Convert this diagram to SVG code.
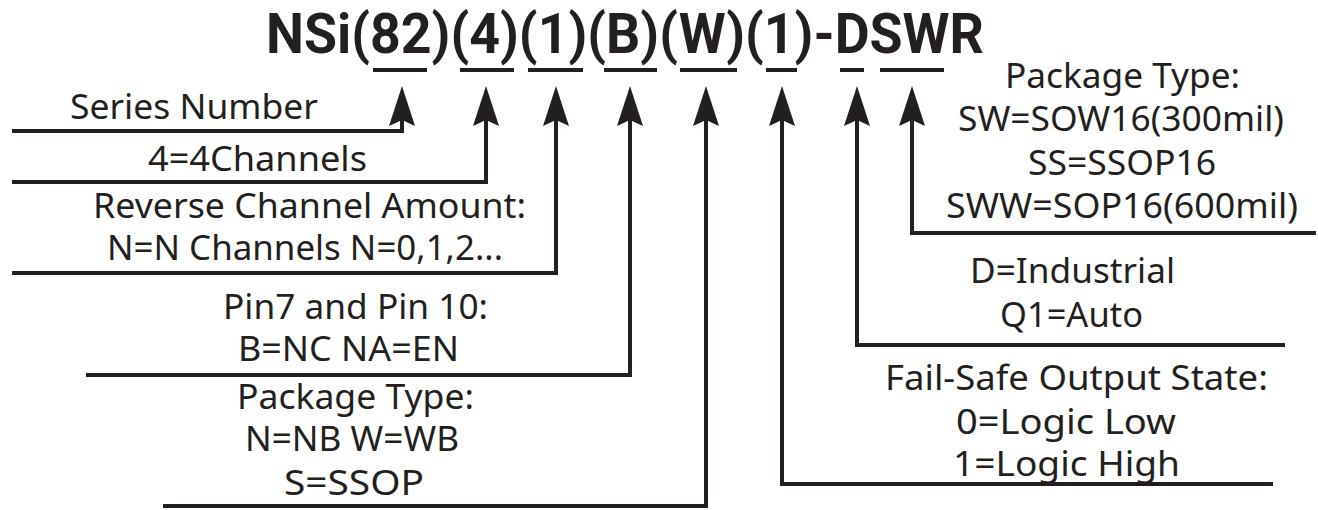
<svg xmlns="http://www.w3.org/2000/svg" width="1318" height="510" viewBox="0 0 1318 510">
<style>
.t{font-family:"Noto Sans","Open Sans",sans-serif;font-size:34px;fill:#231f20}
.title{font-family:Roboto,"Noto Sans",sans-serif;font-size:55px;font-weight:bold;fill:#231f20}
.c{fill:none;stroke:#231f20;stroke-width:4;marker-end:url(#ah)}
.u{stroke:#231f20;stroke-width:4}
</style>
<defs>
<marker id="ah" markerUnits="userSpaceOnUse" viewBox="-2 -14 44 28" markerWidth="44" markerHeight="28" refX="6" refY="0" orient="auto" overflow="visible">
<path d="M40,0 L0,-13 L6,0 L0,13 Z" fill="#231f20"/>
</marker>
</defs>
<rect width="1318" height="510" fill="#fff"/>
<g id="title">
<text class="title" x="266" y="53" textLength="718" lengthAdjust="spacingAndGlyphs">NSi(82)(4)(1)(B)(W)(1)-DSWR</text>
<line class="u" x1="373" y1="70" x2="427" y2="70"/>
<line class="u" x1="460" y1="70" x2="514" y2="70"/>
<line class="u" x1="528" y1="70" x2="583" y2="70"/>
<line class="u" x1="604" y1="70" x2="657" y2="70"/>
<line class="u" x1="680" y1="70" x2="737" y2="70"/>
<line class="u" x1="766" y1="70" x2="797" y2="70"/>
<line class="u" x1="840" y1="70" x2="864" y2="70"/>
<line class="u" x1="880" y1="70" x2="944" y2="70"/>
</g>
<g id="connectors">
<path class="c" d="M12,131 H402 V120"/>
<path class="c" d="M12,182 H486 V120"/>
<path class="c" d="M12,273 H556 V120"/>
<path class="c" d="M86,375 H630 V120"/>
<path class="c" d="M163,506 H706 V120"/>
<path class="c" d="M1273,484 H782 V120"/>
<path class="c" d="M1285,345 H857 V120"/>
<path class="c" d="M1316,233 H912 V120"/>
</g>
<g id="series">
<text class="t" x="70" y="119" textLength="248" lengthAdjust="spacingAndGlyphs">Series Number</text>
</g>
<g id="channels">
<text class="t" x="148" y="171" textLength="219" lengthAdjust="spacingAndGlyphs">4=4Channels</text>
</g>
<g id="reverse">
<text class="t" x="93" y="218" textLength="433" lengthAdjust="spacingAndGlyphs">Reverse Channel Amount:</text>
<text class="t" x="107" y="260" textLength="396" lengthAdjust="spacingAndGlyphs">N=N Channels N=0,1,2...</text>
</g>
<g id="pins">
<text class="t" x="223" y="319" textLength="265" lengthAdjust="spacingAndGlyphs">Pin7 and Pin 10:</text>
<text class="t" x="238" y="361" textLength="221" lengthAdjust="spacingAndGlyphs">B=NC NA=EN</text>
</g>
<g id="package-left">
<text class="t" x="237" y="409" textLength="237" lengthAdjust="spacingAndGlyphs">Package Type:</text>
<text class="t" x="245" y="451" textLength="214" lengthAdjust="spacingAndGlyphs">N=NB W=WB</text>
<text class="t" x="284" y="495" textLength="140" lengthAdjust="spacingAndGlyphs">S=SSOP</text>
</g>
<g id="package-right">
<text class="t" x="1005" y="88" textLength="235" lengthAdjust="spacingAndGlyphs">Package Type:</text>
<text class="t" x="958" y="131" textLength="326" lengthAdjust="spacingAndGlyphs">SW=SOW16(300mil)</text>
<text class="t" x="1028" y="175" textLength="188" lengthAdjust="spacingAndGlyphs">SS=SSOP16</text>
<text class="t" x="946" y="218" textLength="352" lengthAdjust="spacingAndGlyphs">SWW=SOP16(600mil)</text>
</g>
<g id="grade">
<text class="t" x="970" y="283" textLength="205" lengthAdjust="spacingAndGlyphs">D=Industrial</text>
<text class="t" x="1000" y="327" textLength="143" lengthAdjust="spacingAndGlyphs">Q1=Auto</text>
</g>
<g id="failsafe">
<text class="t" x="885" y="390" textLength="383" lengthAdjust="spacingAndGlyphs">Fail-Safe Output State:</text>
<text class="t" x="956" y="434" textLength="220" lengthAdjust="spacingAndGlyphs">0=Logic Low</text>
<text class="t" x="953" y="476" textLength="227" lengthAdjust="spacingAndGlyphs">1=Logic High</text>
</g>
</svg>
